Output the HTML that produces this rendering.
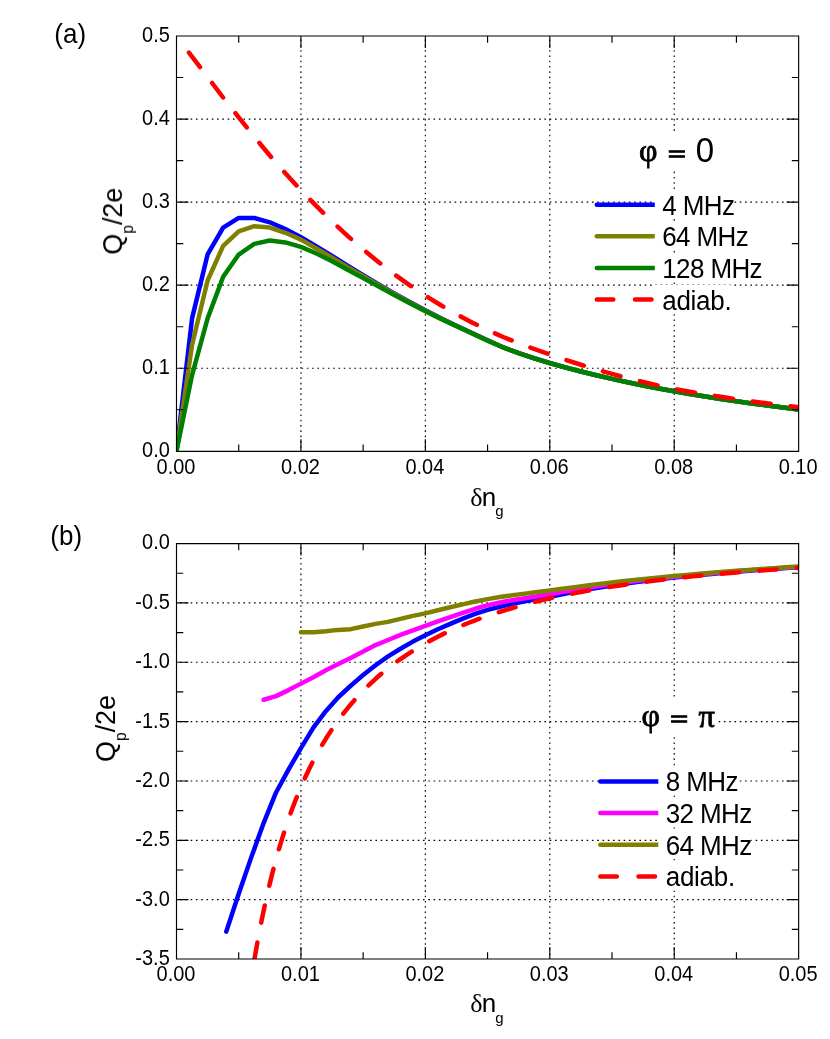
<!DOCTYPE html>
<html lang="en"><head><meta charset="utf-8"><title>Pumped charge vs gate offset</title>
<style>
html,body{margin:0;padding:0;background:#fff;}
body{width:830px;height:1039px;overflow:hidden;font-family:"Liberation Sans", sans-serif;}
svg{display:block;}
text{font-family:"Liberation Sans", sans-serif;fill:#000;}
.tk{font-size:20px;}
.lg{font-size:26px;}
.sym{font-family:"Liberation Serif", serif;}
</style></head><body>
<svg width="830" height="1039" viewBox="0 0 830 1039">
<rect x="0" y="0" width="830" height="1039" fill="#fff"/>
<defs>
<clipPath id="clipA"><rect x="176.5" y="36" width="622.15" height="415.3"/></clipPath>
<clipPath id="clipB"><rect x="176.5" y="543.55" width="622.15" height="415.45"/></clipPath>
</defs>
<line x1="300.93" y1="36" x2="300.93" y2="451.3" stroke="#000" stroke-width="1.15" stroke-dasharray="1.6 3.68" stroke-dashoffset="-3.6"/>
<line x1="425.36" y1="36" x2="425.36" y2="451.3" stroke="#000" stroke-width="1.15" stroke-dasharray="1.6 3.68" stroke-dashoffset="-3.6"/>
<line x1="549.79" y1="36" x2="549.79" y2="451.3" stroke="#000" stroke-width="1.15" stroke-dasharray="1.6 3.68" stroke-dashoffset="-3.6"/>
<line x1="674.22" y1="36" x2="674.22" y2="451.3" stroke="#000" stroke-width="1.15" stroke-dasharray="1.6 3.68" stroke-dashoffset="-3.6"/>
<line x1="176.5" y1="368.24" x2="798.65" y2="368.24" stroke="#000" stroke-width="1.15" stroke-dasharray="1.6 3.68" stroke-dashoffset="-3.6"/>
<line x1="176.5" y1="285.18" x2="798.65" y2="285.18" stroke="#000" stroke-width="1.15" stroke-dasharray="1.6 3.68" stroke-dashoffset="-3.6"/>
<line x1="176.5" y1="202.12" x2="798.65" y2="202.12" stroke="#000" stroke-width="1.15" stroke-dasharray="1.6 3.68" stroke-dashoffset="-3.6"/>
<line x1="176.5" y1="119.06" x2="798.65" y2="119.06" stroke="#000" stroke-width="1.15" stroke-dasharray="1.6 3.68" stroke-dashoffset="-3.6"/>
<line x1="596.8" y1="204.7" x2="656" y2="204.7" stroke="#0000ff" stroke-width="4.5" stroke-linecap="round"/>
<line x1="596.8" y1="236.2" x2="656" y2="236.2" stroke="#808000" stroke-width="4.5" stroke-linecap="round"/>
<line x1="596.8" y1="267.9" x2="656" y2="267.9" stroke="#008000" stroke-width="4.5" stroke-linecap="round"/>
<line x1="596.8" y1="299.6" x2="656" y2="299.6" stroke="#ff0000" stroke-width="4.5" stroke-linecap="round" stroke-dasharray="16.5 21.7"/>
<g clip-path="url(#clipA)" fill="none" stroke-width="4.5" stroke-linejoin="round" stroke-linecap="round">
<path d="M176.5 451.3 L192.05 318.4 L207.61 254.45 L223.16 227.54 L238.71 217.9 L254.27 217.9 L269.82 222.3 L285.38 229.11 L300.93 237.17 L316.48 246.35 L332.04 255.99 L347.59 265.71 L363.14 275.15 L378.7 284.32 L394.25 293.34 L409.81 302.06 L425.36 310.34 L440.91 318.19 L456.47 325.71 L472.02 333.03 L487.57 340.32 L503.13 347.27 L518.68 353.07 L534.24 358.25 L549.79 363 L565.34 367.41 L580.9 371.47 L596.45 375.26 L612.01 378.84 L627.56 382.24 L643.11 385.44 L658.67 388.47 L674.22 391.32 L689.77 394.02 L705.33 396.57 L720.88 398.99 L736.43 401.3 L751.99 403.49 L767.54 405.57 L783.1 407.55 L798.65 409.44" stroke="#0000ff"/>
<path d="M176.5 451.3 L192.05 344.98 L207.61 280.53 L223.16 245.81 L238.71 231.36 L254.27 226.21 L269.82 227.54 L285.38 232.77 L300.93 239.66 L316.48 248.42 L332.04 257.68 L347.59 267.07 L363.14 276.24 L378.7 285.19 L394.25 294.03 L409.81 302.59 L425.36 310.76 L440.91 318.51 L456.47 325.97 L472.02 333.22 L487.57 340.47 L503.13 347.38 L518.68 353.16 L534.24 358.32 L549.79 363.06 L565.34 367.45 L580.9 371.5 L596.45 375.28 L612.01 378.86 L627.56 382.25 L643.11 385.45 L658.67 388.47 L674.22 391.33 L689.77 394.03 L705.33 396.58 L720.88 399 L736.43 401.3 L751.99 403.49 L767.54 405.57 L783.1 407.55 L798.65 409.44" stroke="#808000"/>
<path d="M176.5 451.3 L192.05 375.13 L207.61 318.4 L223.16 276.71 L238.71 254.53 L254.27 243.9 L269.82 240.49 L285.38 242.4 L300.93 246.81 L316.48 253.53 L332.04 261.34 L347.59 269.69 L363.14 278.12 L378.7 286.54 L394.25 294.99 L409.81 303.29 L425.36 311.26 L440.91 318.87 L456.47 326.22 L472.02 333.4 L487.57 340.6 L503.13 347.48 L518.68 353.23 L534.24 358.37 L549.79 363.09 L565.34 367.47 L580.9 371.52 L596.45 375.3 L612.01 378.87 L627.56 382.26 L643.11 385.46 L658.67 388.48 L674.22 391.33 L689.77 394.03 L705.33 396.58 L720.88 399 L736.43 401.3 L751.99 403.49 L767.54 405.57 L783.1 407.55 L798.65 409.44" stroke="#008000"/>
<path d="M188.94 52.61 L192.05 56.53 L207.61 77.06 L223.16 97.59 L238.71 117.4 L254.27 136.81 L269.82 155.46 L285.38 173.28 L300.93 190.19 L316.48 206.19 L332.04 221.46 L347.59 235.92 L363.14 249.46 L378.7 262.19 L394.25 274.17 L409.81 285.33 L425.36 295.65 L440.91 305.22 L456.47 314.17 L472.02 322.46 L487.57 330.08 L503.13 337.01 L518.68 343.25 L534.24 348.99 L549.79 354.45 L565.34 359.73 L580.9 364.75 L596.45 369.48 L612.01 373.89 L627.56 378.04 L643.11 381.97 L658.67 385.58 L674.22 388.84 L689.77 391.74 L705.33 394.39 L720.88 396.83 L736.43 399.14 L751.99 401.32 L767.54 403.37 L783.1 405.3 L798.65 407.11" stroke="#ff0000" stroke-dasharray="18.2 20"/>
</g>
<path d="M176.5 36 v12 M176.5 451.3 v-12 M300.93 36 v12 M300.93 451.3 v-12 M425.36 36 v12 M425.36 451.3 v-12 M549.79 36 v12 M549.79 451.3 v-12 M674.22 36 v12 M674.22 451.3 v-12 M798.65 36 v12 M798.65 451.3 v-12 M238.71 36 v6.8 M238.71 451.3 v-6.8 M363.14 36 v6.8 M363.14 451.3 v-6.8 M487.57 36 v6.8 M487.57 451.3 v-6.8 M612.01 36 v6.8 M612.01 451.3 v-6.8 M736.43 36 v6.8 M736.43 451.3 v-6.8 M176.5 451.3 h12 M798.65 451.3 h-12 M176.5 368.24 h12 M798.65 368.24 h-12 M176.5 285.18 h12 M798.65 285.18 h-12 M176.5 202.12 h12 M798.65 202.12 h-12 M176.5 119.06 h12 M798.65 119.06 h-12 M176.5 36 h12 M798.65 36 h-12 M176.5 409.77 h6.8 M798.65 409.77 h-6.8 M176.5 326.71 h6.8 M798.65 326.71 h-6.8 M176.5 243.65 h6.8 M798.65 243.65 h-6.8 M176.5 160.59 h6.8 M798.65 160.59 h-6.8 M176.5 77.53 h6.8 M798.65 77.53 h-6.8 M176.5 36 H798.65 V451.3 H176.5 Z" stroke="#000" stroke-width="1.15" fill="none"/>
<line x1="300.93" y1="543.55" x2="300.93" y2="959" stroke="#000" stroke-width="1.15" stroke-dasharray="1.6 3.68" stroke-dashoffset="-3.6"/>
<line x1="425.36" y1="543.55" x2="425.36" y2="959" stroke="#000" stroke-width="1.15" stroke-dasharray="1.6 3.68" stroke-dashoffset="-3.6"/>
<line x1="549.79" y1="543.55" x2="549.79" y2="959" stroke="#000" stroke-width="1.15" stroke-dasharray="1.6 3.68" stroke-dashoffset="-3.6"/>
<line x1="674.22" y1="543.55" x2="674.22" y2="959" stroke="#000" stroke-width="1.15" stroke-dasharray="1.6 3.68" stroke-dashoffset="-3.6"/>
<line x1="176.5" y1="602.9" x2="798.65" y2="602.9" stroke="#000" stroke-width="1.15" stroke-dasharray="1.6 3.68" stroke-dashoffset="-3.6"/>
<line x1="176.5" y1="662.25" x2="798.65" y2="662.25" stroke="#000" stroke-width="1.15" stroke-dasharray="1.6 3.68" stroke-dashoffset="-3.6"/>
<line x1="176.5" y1="721.6" x2="798.65" y2="721.6" stroke="#000" stroke-width="1.15" stroke-dasharray="1.6 3.68" stroke-dashoffset="-3.6"/>
<line x1="176.5" y1="780.95" x2="798.65" y2="780.95" stroke="#000" stroke-width="1.15" stroke-dasharray="1.6 3.68" stroke-dashoffset="-3.6"/>
<line x1="176.5" y1="840.3" x2="798.65" y2="840.3" stroke="#000" stroke-width="1.15" stroke-dasharray="1.6 3.68" stroke-dashoffset="-3.6"/>
<line x1="176.5" y1="899.65" x2="798.65" y2="899.65" stroke="#000" stroke-width="1.15" stroke-dasharray="1.6 3.68" stroke-dashoffset="-3.6"/>
<line x1="600.3" y1="781.4" x2="659.5" y2="781.4" stroke="#0000ff" stroke-width="4.5" stroke-linecap="round"/>
<line x1="600.3" y1="813.1" x2="659.5" y2="813.1" stroke="#ff00ff" stroke-width="4.5" stroke-linecap="round"/>
<line x1="600.3" y1="844.7" x2="659.5" y2="844.7" stroke="#808000" stroke-width="4.5" stroke-linecap="round"/>
<line x1="600.3" y1="876.4" x2="659.5" y2="876.4" stroke="#ff0000" stroke-width="4.5" stroke-linecap="round" stroke-dasharray="16.5 21.7"/>
<g clip-path="url(#clipB)" fill="none" stroke-width="4.5" stroke-linejoin="round" stroke-linecap="round">
<path d="M226.27 931.58 L238.71 893.71 L251.16 857.63 L263.6 823.09 L276.04 792.46 L288.49 769.67 L300.93 748.07 L313.37 727.65 L325.82 711.15 L338.26 697.27 L350.7 685.75 L363.14 675.07 L375.59 665.22 L388.03 656.43 L400.47 648.72 L412.92 641.6 L425.36 635.19 L437.8 629.31 L450.25 623.88 L462.69 618.63 L475.13 613.87 L487.57 609.9 L500.02 606.7 L512.46 603.92 L524.9 601.41 L537.35 599.04 L549.79 596.67 L562.23 594.24 L574.68 591.86 L587.12 589.56 L599.56 587.41 L612.01 585.45 L624.45 583.67 L636.89 582.01 L649.33 580.45 L661.78 578.99 L674.22 577.62 L686.66 576.32 L699.11 575.1 L711.55 573.94 L723.99 572.84 L736.43 571.8 L748.88 570.8 L761.32 569.85 L773.76 568.95 L786.21 568.09 L798.65 567.29" stroke="#0000ff"/>
<path d="M263.6 699.76 L276.04 696.14 L288.49 690.11 L300.93 683.62 L313.37 677.32 L325.82 670.32 L338.26 664.09 L350.7 658.07 L363.14 651.57 L375.59 645.04 L388.03 640.01 L400.47 634.95 L412.92 630.44 L425.36 625.93 L437.8 621.42 L450.25 617.14 L462.69 612.99 L475.13 608.77 L487.57 605.11 L500.02 602.44 L512.46 600.18 L524.9 598.17 L537.35 596.24 L549.79 594.23 L562.23 592.12 L574.68 589.99 L587.12 587.91 L599.56 585.94 L612.01 584.15 L624.45 582.51 L636.89 580.99 L649.33 579.55 L661.78 578.19 L674.22 576.9 L686.66 575.68 L699.11 574.51 L711.55 573.39 L723.99 572.33 L736.43 571.33 L748.88 570.36 L761.32 569.44 L773.76 568.56 L786.21 567.72 L798.65 566.93" stroke="#ff00ff"/>
<path d="M300.93 632.29 L313.37 632.29 L325.82 631.33 L338.26 629.88 L350.7 629.13 L363.14 626.52 L375.59 623.86 L388.03 621.89 L400.47 618.81 L412.92 615.91 L425.36 613.35 L437.8 610.26 L450.25 607.29 L462.69 604.38 L475.13 601.55 L487.57 599.1 L500.02 597.08 L512.46 595.29 L524.9 593.64 L537.35 592.05 L549.79 590.44 L562.23 588.77 L574.68 587.12 L587.12 585.51 L599.56 583.95 L612 582.48 L624.45 581.09 L636.89 579.76 L649.33 578.48 L661.78 577.25 L674.22 576.07 L686.66 574.94 L699.11 573.86 L711.55 572.81 L723.99 571.81 L736.43 570.85 L748.88 569.93 L761.32 569.03 L773.76 568.18 L786.21 567.36 L798.65 566.58" stroke="#808000"/>
<path d="M252.4 971.61 L254.89 956.62 L257.38 942.55 L259.87 929.32 L262.36 916.84 L264.85 905.07 L267.33 893.93 L269.82 883.39 L272.31 873.39 L274.8 863.89 L277.29 854.86 L279.78 846.27 L282.27 838.07 L284.75 830.26 L287.24 822.79 L289.73 815.65 L292.22 808.81 L294.71 802.26 L297.2 795.98 L299.69 789.96 L302.17 784.17 L304.66 778.61 L307.15 773.25 L309.64 768.1 L312.13 763.14 L314.62 758.36 L317.11 753.75 L319.59 749.29 L322.08 744.99 L325.82 738.82 L332.04 729.18 L338.26 720.3 L344.48 712.07 L350.7 704.45 L356.92 697.36 L363.14 690.75 L369.37 684.58 L375.59 678.8 L381.81 673.39 L388.03 668.3 L394.25 663.52 L400.47 659.02 L406.7 654.77 L412.92 650.75 L419.14 646.95 L425.36 643.36 L431.58 639.95 L437.8 636.71 L444.02 633.64 L450.25 630.72 L456.47 627.94 L462.69 625.29 L468.91 622.76 L475.13 620.35 L481.35 618.05 L487.58 615.85 L493.8 613.75 L500.02 611.74 L506.24 609.82 L512.46 607.97 L518.68 606.21 L524.9 604.51 L531.13 602.88 L537.35 601.32 L543.57 599.82 L549.79 598.38 L556.01 596.99 L562.23 595.66 L568.45 594.38 L574.68 593.14 L580.9 591.95 L587.12 590.81 L593.34 589.7 L599.56 588.63 L605.78 587.61 L612.01 586.61 L618.23 585.66 L624.45 584.73 L630.67 583.84 L636.89 582.98 L643.11 582.14 L649.33 581.34 L655.56 580.56 L661.78 579.8 L668 579.07 L674.22 578.37 L680.44 577.68 L686.66 577.02 L692.88 576.38 L699.11 575.76 L705.33 575.16 L711.55 574.57 L717.77 574.01 L723.99 573.46 L730.21 572.93 L736.44 572.41 L742.66 571.91 L748.88 571.42 L755.1 570.95 L761.32 570.49 L767.54 570.05 L773.76 569.62 L779.99 569.2 L786.21 568.79 L792.43 568.39 L798.65 568.01" stroke="#ff0000" stroke-dasharray="17.4 20.35" stroke-dashoffset="25.7"/>
</g>
<path d="M176.5 543.55 v12 M176.5 959 v-12 M300.93 543.55 v12 M300.93 959 v-12 M425.36 543.55 v12 M425.36 959 v-12 M549.79 543.55 v12 M549.79 959 v-12 M674.22 543.55 v12 M674.22 959 v-12 M798.65 543.55 v12 M798.65 959 v-12 M238.71 543.55 v6.8 M238.71 959 v-6.8 M363.14 543.55 v6.8 M363.14 959 v-6.8 M487.57 543.55 v6.8 M487.57 959 v-6.8 M612.01 543.55 v6.8 M612.01 959 v-6.8 M736.43 543.55 v6.8 M736.43 959 v-6.8 M176.5 543.55 h12 M798.65 543.55 h-12 M176.5 602.9 h12 M798.65 602.9 h-12 M176.5 662.25 h12 M798.65 662.25 h-12 M176.5 721.6 h12 M798.65 721.6 h-12 M176.5 780.95 h12 M798.65 780.95 h-12 M176.5 840.3 h12 M798.65 840.3 h-12 M176.5 899.65 h12 M798.65 899.65 h-12 M176.5 959 h12 M798.65 959 h-12 M176.5 573.22 h6.8 M798.65 573.22 h-6.8 M176.5 632.57 h6.8 M798.65 632.57 h-6.8 M176.5 691.92 h6.8 M798.65 691.92 h-6.8 M176.5 751.27 h6.8 M798.65 751.27 h-6.8 M176.5 810.62 h6.8 M798.65 810.62 h-6.8 M176.5 869.97 h6.8 M798.65 869.97 h-6.8 M176.5 929.33 h6.8 M798.65 929.33 h-6.8 M176.5 543.55 H798.65 V959 H176.5 Z" stroke="#000" stroke-width="1.15" fill="none"/>
<g style="filter:grayscale(1)">
<rect x="654.8" y="189.9" width="78.5" height="29" fill="#fff"/>
<text transform="translate(662.2 214.6) scale(1 1.09)" class="lg" style="letter-spacing:-0.6px">4 MHz</text>
<rect x="654.8" y="221.4" width="93" height="29" fill="#fff"/>
<text transform="translate(662.2 246.1) scale(1 1.09)" class="lg" style="letter-spacing:-0.6px">64 MHz</text>
<rect x="654.8" y="253.1" width="107.5" height="29" fill="#fff"/>
<text transform="translate(662.2 277.8) scale(1 1.09)" class="lg" style="letter-spacing:-0.6px">128 MHz</text>
<rect x="654.8" y="284.8" width="76" height="29" fill="#fff"/>
<text transform="translate(662.2 309.5) scale(1 1.03)" class="lg" style="letter-spacing:-0.25px">adiab.</text>
<rect x="640" y="131" width="77" height="39.5" fill="#fff"/>
<text transform="translate(639 161)" class="sym" style="font-size:32px;stroke:#000;stroke-width:0.8px">&#966;</text>
<text transform="translate(667.9 160.9) scale(1.047 0.7)" style="font-size:29px;stroke:#000;stroke-width:1.4px">=</text>
<text transform="translate(695.8 162.1) scale(1 1.06)" style="font-size:33px">0</text>
<text transform="translate(169.8 457.3) scale(1 1.12)" class="tk" text-anchor="end">0.0</text>
<text transform="translate(169.8 374.24) scale(1 1.12)" class="tk" text-anchor="end">0.1</text>
<text transform="translate(169.8 291.18) scale(1 1.12)" class="tk" text-anchor="end">0.2</text>
<text transform="translate(169.8 208.12) scale(1 1.12)" class="tk" text-anchor="end">0.3</text>
<text transform="translate(169.8 125.06) scale(1 1.12)" class="tk" text-anchor="end">0.4</text>
<text transform="translate(169.8 42) scale(1 1.12)" class="tk" text-anchor="end">0.5</text>
<text transform="translate(176 473.6) scale(1 1.12)" class="tk" text-anchor="middle">0.00</text>
<text transform="translate(300.43 473.6) scale(1 1.12)" class="tk" text-anchor="middle">0.02</text>
<text transform="translate(424.86 473.6) scale(1 1.12)" class="tk" text-anchor="middle">0.04</text>
<text transform="translate(549.29 473.6) scale(1 1.12)" class="tk" text-anchor="middle">0.06</text>
<text transform="translate(673.72 473.6) scale(1 1.12)" class="tk" text-anchor="middle">0.08</text>
<text transform="translate(798.15 473.6) scale(1 1.12)" class="tk" text-anchor="middle">0.10</text>
<text transform="translate(122 254.7) rotate(-90) scale(1.037 1.04)" class="lg">Q<tspan dy="10.8" style="font-size:15px">p</tspan><tspan dy="-10.8">/2e</tspan></text>
<text transform="translate(470.2 505.8)" class="lg"><tspan class="sym" style="font-size:26px">&#948;</tspan><tspan dx="-0.8">n</tspan><tspan dy="10.6" dx="-0.9" style="font-size:15px">g</tspan></text>
<text transform="translate(54.3 42.9) scale(1 1.05)" class="lg">(a)</text>
<rect x="658.3" y="766.6" width="78.5" height="29" fill="#fff"/>
<text transform="translate(665.7 791.3) scale(1 1.09)" class="lg" style="letter-spacing:-0.6px">8 MHz</text>
<rect x="658.3" y="798.3" width="93" height="29" fill="#fff"/>
<text transform="translate(665.7 823) scale(1 1.09)" class="lg" style="letter-spacing:-0.6px">32 MHz</text>
<rect x="658.3" y="829.9" width="93" height="29" fill="#fff"/>
<text transform="translate(665.7 854.6) scale(1 1.09)" class="lg" style="letter-spacing:-0.6px">64 MHz</text>
<rect x="658.3" y="861.6" width="76" height="29" fill="#fff"/>
<text transform="translate(665.7 886.3) scale(1 1.03)" class="lg" style="letter-spacing:-0.25px">adiab.</text>
<rect x="641.5" y="697" width="74" height="39" fill="#fff"/>
<text transform="translate(641.4 725.7)" class="sym" style="font-size:32px;stroke:#000;stroke-width:0.8px">&#966;</text>
<text transform="translate(670.3 725.6) scale(1.047 0.7)" style="font-size:29px;stroke:#000;stroke-width:1.4px">=</text>
<text transform="translate(698.4 726.5)" class="sym" style="font-size:32.5px;stroke:#000;stroke-width:0.8px">&#960;</text>
<text transform="translate(169.8 548.55) scale(1 1.12)" class="tk" text-anchor="end">0.0</text>
<text transform="translate(169.8 608.9) scale(1 1.12)" class="tk" text-anchor="end">-0.5</text>
<text transform="translate(169.8 668.25) scale(1 1.12)" class="tk" text-anchor="end">-1.0</text>
<text transform="translate(169.8 727.6) scale(1 1.12)" class="tk" text-anchor="end">-1.5</text>
<text transform="translate(169.8 786.95) scale(1 1.12)" class="tk" text-anchor="end">-2.0</text>
<text transform="translate(169.8 846.3) scale(1 1.12)" class="tk" text-anchor="end">-2.5</text>
<text transform="translate(169.8 905.65) scale(1 1.12)" class="tk" text-anchor="end">-3.0</text>
<text transform="translate(169.8 965) scale(1 1.12)" class="tk" text-anchor="end">-3.5</text>
<text transform="translate(176 981.4) scale(1 1.12)" class="tk" text-anchor="middle">0.00</text>
<text transform="translate(300.43 981.4) scale(1 1.12)" class="tk" text-anchor="middle">0.01</text>
<text transform="translate(424.86 981.4) scale(1 1.12)" class="tk" text-anchor="middle">0.02</text>
<text transform="translate(549.29 981.4) scale(1 1.12)" class="tk" text-anchor="middle">0.03</text>
<text transform="translate(673.72 981.4) scale(1 1.12)" class="tk" text-anchor="middle">0.04</text>
<text transform="translate(798.15 981.4) scale(1 1.12)" class="tk" text-anchor="middle">0.05</text>
<text transform="translate(115 762) rotate(-90) scale(1.037 1.04)" class="lg">Q<tspan dy="10.8" style="font-size:15px">p</tspan><tspan dy="-10.8">/2e</tspan></text>
<text transform="translate(470.2 1012.1)" class="lg"><tspan class="sym" style="font-size:26px">&#948;</tspan><tspan dx="-0.8">n</tspan><tspan dy="10.6" dx="-0.9" style="font-size:15px">g</tspan></text>
<text transform="translate(50.3 545.3) scale(1 1.05)" class="lg">(b)</text>
</g>
</svg>
</body></html>
